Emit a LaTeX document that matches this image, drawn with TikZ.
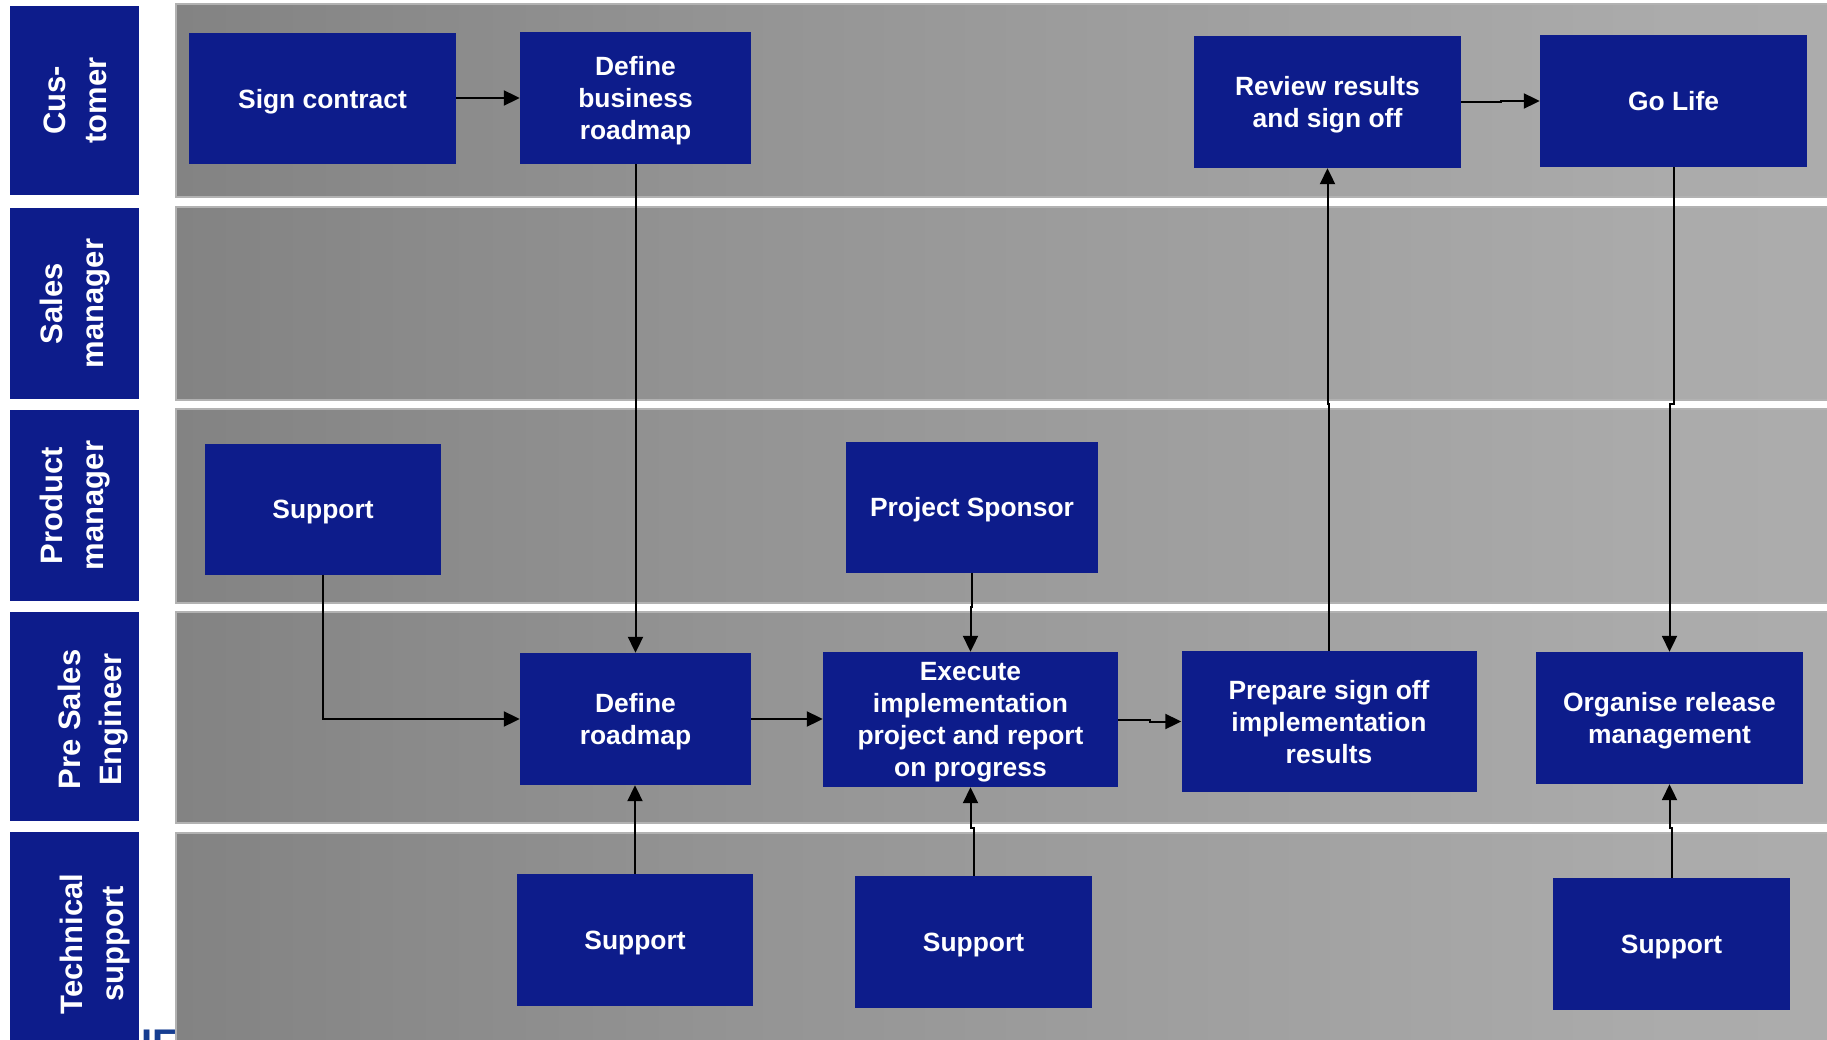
\documentclass[tikz,border=0pt]{standalone}
\usepackage{fontspec}
\setmainfont{Liberation Sans}
\usetikzlibrary{arrows.meta,calc}
\definecolor{navy}{RGB}{13,28,139}
\definecolor{laneA}{RGB}{121,121,121}
\definecolor{laneB}{RGB}{131,131,131}
\definecolor{laneC}{RGB}{148,148,148}
\definecolor{laneD}{RGB}{171,171,171}
\definecolor{laneE}{RGB}{177,177,177}
\definecolor{laneedge}{RGB}{178,178,178}
\definecolor{logoblue}{RGB}{22,62,145}
\pgfdeclarehorizontalshading{lanesh}{100bp}{color(0bp)=(laneA); color(25bp)=(laneB); color(42bp)=(laneC); color(70bp)=(laneD); color(100bp)=(laneE)}
\tikzset{
  lane/.style={shading=lanesh, draw=laneedge, line width=1.2pt},
  lanelab/.style={fill=navy, inner sep=0pt, rotate=90},
  labtxt/.style={text=white, inner sep=0pt, align=center, rotate=90,
    font=\bfseries\fontsize{31}{41}\selectfont},
  box/.style={fill=navy, text=white, inner sep=0pt, align=center, text depth=-1pt,
    font=\bfseries\fontsize{26.4}{32}\selectfont},
  conn/.style={draw=black, line width=2pt, -{Triangle[length=16pt,width=15pt]}},
}
\begin{document}
\begin{tikzpicture}[x=1pt,y=-1pt]
\useasboundingbox (0,0) rectangle (1827,1040);
\clip (0,0) rectangle (1827,1040);
% logo fragment
\node[anchor=north west, inner sep=0pt, text=logoblue, font=\bfseries\fontsize{40}{40}\selectfont] (logo) at (141,1029) {IFS};
% lanes
\path[lane] (176,4) rectangle (1840,197);
\path[lane] (176,207) rectangle (1840,400);
\path[lane] (176,409) rectangle (1840,603);
\path[lane] (176,612) rectangle (1840,823);
\path[lane] (176,833) rectangle (1840,1060);
% lane labels
\node[lanelab, minimum width=189pt, minimum height=129pt] (lcust) at (74.5,100.5) {};
\node[lanelab, minimum width=191pt, minimum height=129pt] (lsales) at (74.5,303.5) {};
\node[lanelab, minimum width=191pt, minimum height=129pt] (lprod) at (74.5,505.5) {};
\node[lanelab, minimum width=209pt, minimum height=129pt] (lpre) at (74.5,716.5) {};
\node[lanelab, minimum width=224pt, minimum height=129pt] (ltech) at (74.5,944) {};
\node[labtxt] (tcust) at ($(lcust.center)+(1,0)$) {Cus-\\tomer};
\node[labtxt] (tsales) at ($(lsales.center)+(1,0)$) {Sales\\manager};
\node[labtxt] (tprod) at ($(lprod.center)+(1,0)$) {Product\\manager};
\node[labtxt] (tpre) at ($(lpre.center)+(19,3)$) {Pre Sales\\Engineer};
\node[labtxt] (ttech) at ($(ltech.center)+(20,0)$) {Technical\\support};
% boxes
\node[box, minimum width=267pt, minimum height=131pt] (signc) at (322.5,98.5) {Sign contract};
\node[box, minimum width=231pt, minimum height=132pt] (defbiz) at (635.5,98) {Define\\business\\roadmap};
\node[box, minimum width=267pt, minimum height=132pt] (rev) at (1327.5,102) {Review results\\and sign off};
\node[box, minimum width=267pt, minimum height=132pt] (golife) at (1673.5,101) {Go Life};
\node[box, minimum width=236pt, minimum height=131pt] (supppm) at (323,509) {Support};
\node[box, minimum width=252pt, minimum height=131pt] (spon) at (972,507) {Project Sponsor};
\node[box, minimum width=231pt, minimum height=132pt] (defroad) at (635.5,719) {Define\\roadmap};
\node[box, minimum width=295pt, minimum height=135pt] (exec) at (970.5,719.5) {Execute\\implementation\\project and report\\on progress};
\node[box, minimum width=295pt, minimum height=141pt] (prep) at (1329,721.5) {Prepare sign off\\implementation\\results};
\node[box, minimum width=267pt, minimum height=132pt] (org) at (1669.5,718) {Organise release\\management};
\node[box, minimum width=236pt, minimum height=132pt] (s1) at (635,940) {Support};
\node[box, minimum width=237pt, minimum height=132pt] (s2) at (973.5,942) {Support};
\node[box, minimum width=237pt, minimum height=132pt] (s3) at (1671.5,944) {Support};
% gap coordinates
\coordinate (gapA) at (0,404);
\coordinate (gapB) at (0,607);
\coordinate (gapC) at (0,828);
% connectors
\draw[conn] (signc.east) -- ($(signc.east)!0.5!(signc.east -| defbiz.west)$) |- (defbiz.west);
\draw[conn] (rev.east) -- ($(rev.east)!0.5!(rev.east -| golife.west)$) |- (golife.west);
\draw[conn] (defbiz.south) -- (defbiz.south |- defroad.north);
\draw[conn] (prep.north) -- (prep.north |- gapA) -| (rev.south);
\draw[conn] (golife.south) -- (golife.south |- gapA) -| (org.north);
\draw[conn] (supppm.south) |- (defroad.west);
\draw[conn] (defroad.east) -- (defroad.east -| exec.west);
\draw[conn] (exec.east) -- ($(exec.east)!0.5!(exec.east -| prep.west)$) |- (prep.west);
\draw[conn] (spon.south) -- (spon.south |- gapB) -| (exec.north);
\draw[conn] (s1.north) -- (s1.north |- defroad.south);
\draw[conn] (s2.north) -- (s2.north |- gapC) -| (exec.south);
\draw[conn] (s3.north) -- (s3.north |- gapC) -| (org.south);
\end{tikzpicture}
\end{document}
